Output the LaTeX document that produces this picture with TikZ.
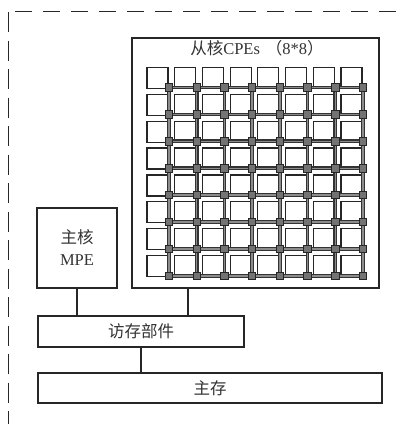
\documentclass[tikz,border=0pt]{standalone}
\usepackage{fontspec}
\setmainfont{Liberation Serif}
\newfontfamily\cjk{Noto Sans CJK SC}
\begin{document}
\begin{tikzpicture}[x=1pt,y=-1pt,
  box/.style={draw=black!85, line width=1.4pt, inner sep=0pt},
  pe/.style={draw=black!85, line width=1.2pt, fill=white, minimum width=21pt, minimum height=21pt, inner sep=0pt},
  router/.style={draw=black!85, line width=0.9pt, fill=black!55, minimum size=7.5pt, inner sep=0pt},
  link/.style={draw=black!80, line width=1.2pt, double=black!45, double distance=1.4pt},
  conn/.style={draw=black!85, line width=1.4pt},
  hframe/.style={draw=black!85, line width=1.5pt, dash pattern=on 17pt off 11pt},
  vframe/.style={draw=black!85, line width=1.5pt, dash pattern=on 20pt off 8.5pt},
  lbl/.style={font=\fontsize{16.5}{22}\selectfont, text=black!80}]
\useasboundingbox (0,0) rectangle (403,424);
% dashed frame
\draw[hframe] (15,11.5) -- (403,11.5);
\draw[vframe] (8.5,12) -- (8.5,424);
% boxes
\node[box, minimum width=247pt, minimum height=250pt] (cpe) at (255.5,163) {};
\node[lbl] (title) at (257,48) {{\cjk 从核}CPEs\hspace{6pt}{\cjk （}8*8{\cjk ）}};
\node[box, lbl, minimum width=80pt, minimum height=80pt, align=center] (mpe) at (77,248) {{\cjk 主核}\\MPE};
\node[box, lbl, minimum width=206pt, minimum height=31pt] (dma) at (141,331.5) {\cjk 访存部件};
\node[box, lbl, minimum width=344pt, minimum height=30pt] (mem) at (210,388) {\cjk 主存};
% connectors
\coordinate (cpeout) at (188,288);
\draw[conn] (mpe.south) -- (mpe.south |- dma.north);
\draw[conn] (cpeout) -- (cpeout |- dma.north);
\draw[conn] (dma.south) -- (dma.south |- mem.north);
% PE grid
\foreach \i in {0,...,7}{
  \foreach \j in {0,...,7}{
    \node[pe] (pe-\i-\j) at ({157.5+27.7*\i},{77.8+26.9*\j}) {};
    \coordinate (rc-\i-\j) at ({169+27.7*\i},{87.5+26.9*\j});
  }
}
\foreach \i [evaluate=\i as \n using int(\i+1)] in {0,...,6}{
  \foreach \j in {0,...,7}{
    \draw[link] (rc-\i-\j) -- (rc-\n-\j);
    \draw[link] (rc-\j-\i) -- (rc-\j-\n);
  }
}
\foreach \i in {0,...,7}{
  \foreach \j in {0,...,7}{
    \node[router] (r-\i-\j) at (rc-\i-\j) {};
  }
}
\end{tikzpicture}
\end{document}
